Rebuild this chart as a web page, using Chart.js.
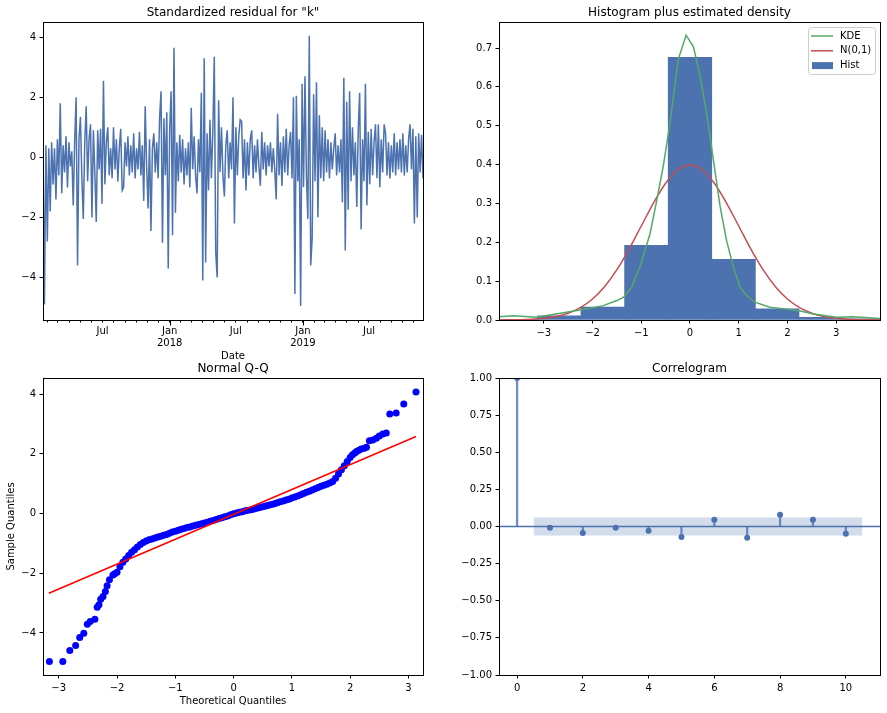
<!DOCTYPE html>
<html>
<head>
<meta charset="utf-8">
<script src="https://cdn.jsdelivr.net/npm/chart.js@4.4.1/dist/chart.umd.min.js"></script>
<style>
html, body { margin: 0; padding: 0; background: #fff; }
#wrap { position: relative; width: 887px; height: 713px; }
#wrap canvas { position: absolute; left: 0; top: 0; }
</style>
</head>
<body>
<div id="wrap">
  <canvas id="c1" width="887" height="713"></canvas>
  <canvas id="c2" width="887" height="713"></canvas>
  <canvas id="c3" width="887" height="713"></canvas>
  <canvas id="c4" width="887" height="713"></canvas>
</div>
<script>
// standardized residuals, roughly every 4 days from mid Jan 2017 to late Nov 2019
const resid = [
  0.4, -4.9, 0.4, -2.8, 0.3, -1.8, 0.5, -0.9, 0.3, -1.4,
  0.6, -0.6, 1.8, -1.2, 0.4, -0.5, 0.7, -1.0, 0.5, -0.3,
  0.2, -1.6, 0.5, 2.0, -3.6, 0.6, 1.35, -0.7, -2.05, 0.5,
  1.7, -0.8, 0.6, 1.1, -2.0, 0.9, -0.5, -2.15, 0.9, -0.4,
  0.95, -1.55, 2.55, -0.9, 0.5, 1.0, -0.6, 0.3, -0.7, 1.0,
  -0.4, 0.6, -0.8, 0.3, 0.95, -1.1, -1.0, 0.5, -0.3, 0.7,
  -0.6, 0.4, -0.5, 0.8, -0.7, 0.3, -0.4, 0.85, -0.6, 0.4,
  -1.45, 1.7, -0.3, -1.7, 0.6, -2.45, 0.3, 0.8, -0.5, 0.5,
  -0.7, 1.3, 2.2, -2.85, 1.3, -0.6, 1.5, -3.7, 0.9, 2.2,
  -2.6, 3.65, -1.85, 0.5, -0.8, 0.75, -0.5, 0.6, -0.9, 0.3,
  -0.6, 0.5, -1.0, 1.65, -0.4, 0.7, -0.6, -1.2, 0.6, -0.5,
  2.15, -4.1, 3.3, -3.5, 0.8, -1.1, 1.25, -0.7, 0.9, 3.35,
  -3.15, -4.0, 1.9, -0.5, 1.0, -0.6, -1.3, 0.4, 0.9, -0.7,
  0.5, -0.4, 2.0, -2.2, 1.0, -0.6, 0.7, 1.25, 1.2, -0.7,
  0.6, -1.1, 0.5, -0.6, 0.6, 0.9, -0.7, 0.4, -0.5, 0.6,
  -0.3, -0.95, 0.85, -0.4, 0.5, -0.6, 0.4, -0.3, 0.5, -0.5,
  0.3, -0.4, -1.4, 1.45, -0.6, 0.5, -0.95, 0.7, -0.5, 0.95,
  -0.6, 0.4, 0.85, -0.7, 2.0, -4.55, 2.05, -0.8, 0.6, -4.95,
  2.45, -1.0, 2.7, -0.6, -2.05, 4.05, -3.6, -2.7, 2.1, -0.8,
  2.5, -2.0, 1.4, -0.7, 1.0, -0.8, 0.9, -0.5, 0.6, -0.7,
  0.5, -0.4, 0.3, 0.8, -0.6, 0.4, -0.5, 0.6, -1.5, 2.65,
  -3.1, 1.85, -1.75, 2.2, -0.8, 1.0, -0.6, 0.5, -1.65, 0.9,
  2.15, -2.4, 0.6, -0.8, 2.45, -1.6, 0.85, -0.9, 0.95, -0.6,
  0.5, 1.1, -0.7, 1.1, -1.0, 0.6, -0.5, 1.1, 0.8, -0.6,
  0.5, -0.7, 0.4, -0.5, 0.8, -0.6, 0.5, -0.4, 0.6, -0.5,
  0.8, -0.6, 0.4, -0.5, 0.6, 1.1, -0.4, 0.95, -2.2, 0.7,
  -2.0, 0.8, -0.5, 0.75, -0.7
];
const residTicks = [-4, -2, 0, 2, 4];

// histogram (bin centres, density) and the two curves
const histCenters = [-4.475, -3.58, -2.685, -1.79, -0.895, 0, 0.895, 1.79, 2.685, 3.58];
const histDensity = [0.002, 0.002, 0.011, 0.033, 0.192, 0.676, 0.156, 0.0285, 0.007, 0.003];
const kdeX = [-3.92, -3.63, -3.15, -2.26, -1.78, -1.5, -1.36, -1.2, -1.03, -0.82, -0.68, -0.55, -0.41, -0.24, -0.08,
  0.07, 0.21, 0.34, 0.48, 0.62, 0.75, 0.89, 1.03, 1.16, 1.33, 1.64, 1.98, 2.24, 2.53, 3.01, 3.35, 3.9];
const kdeY = [0.0086, 0.011, 0.007, 0.026, 0.037, 0.05, 0.059, 0.084, 0.136, 0.222, 0.309, 0.395, 0.507, 0.671, 0.733,
  0.703, 0.628, 0.533, 0.412, 0.291, 0.205, 0.136, 0.084, 0.063, 0.046, 0.033, 0.028, 0.024, 0.0155, 0.007, 0.0086, 0.004];
const normX = [-3.9, -3.5, -3.25, -3.0, -2.75, -2.5, -2.25, -2.0, -1.75, -1.5, -1.25, -1.0, -0.75, -0.5, -0.25, 0,
  0.25, 0.5, 0.75, 1.0, 1.25, 1.5, 1.75, 2.0, 2.25, 2.5, 2.75, 3.0, 3.25, 3.5, 3.9];
const normY = [0.0002, 0.0009, 0.002, 0.0044, 0.009, 0.0175, 0.0317, 0.054, 0.0863, 0.1295, 0.1826, 0.242, 0.3011, 0.3521, 0.3867, 0.3989,
  0.3867, 0.3521, 0.3011, 0.242, 0.1826, 0.1295, 0.0863, 0.054, 0.0317, 0.0175, 0.009, 0.0044, 0.002, 0.0009, 0.0002];
const histXTicks = [-3, -2, -1, 0, 1, 2, 3];
const histYTicks = [0, 0.1, 0.2, 0.3, 0.4, 0.5, 0.6, 0.7];

// normal Q-Q
const qqTheo = [-3.16, -2.93, -2.81, -2.71, -2.64, -2.57, -2.51, -2.46, -2.38, -2.34, -2.31, -2.28, -2.24, -2.2, -2.17, -2.13, -2.07, -2.04,
  -2.0, -1.95, -1.9, -1.85, -1.8, -1.75, -1.7, -1.65, -1.6, -1.55, -1.5, -1.45, -1.4, -1.35, -1.3, -1.25, -1.2, -1.15, -1.1, -1.05,
  -1.0, -0.95, -0.9, -0.85, -0.8, -0.75, -0.7, -0.65, -0.6, -0.55, -0.5, -0.45, -0.4, -0.35, -0.3, -0.25, -0.2, -0.15, -0.1, -0.05,
  0, 0.05, 0.1, 0.15, 0.2, 0.25, 0.3, 0.35, 0.4, 0.45, 0.5, 0.55, 0.6, 0.65, 0.7, 0.75, 0.8, 0.85, 0.9, 0.95,
  1.0, 1.05, 1.1, 1.15, 1.2, 1.25, 1.3, 1.35, 1.4, 1.45, 1.5, 1.55, 1.6, 1.65, 1.7, 1.75, 1.8, 1.85, 1.9, 1.95, 2.0,
  2.04, 2.08, 2.11, 2.15, 2.19, 2.24, 2.28, 2.33, 2.39, 2.45, 2.5, 2.56, 2.62, 2.68, 2.79, 2.92, 3.13];
const qqSample = [-4.96, -4.96, -4.59, -4.42, -4.15, -4.01, -3.71, -3.62, -3.54, -3.14, -3.06, -2.87, -2.78, -2.61, -2.42, -2.22, -2.06, -2.02,
  -1.97, -1.78, -1.63, -1.52, -1.41, -1.3, -1.21, -1.12, -1.04, -0.97, -0.92, -0.88, -0.85, -0.82, -0.79, -0.76, -0.73, -0.7, -0.66, -0.62,
  -0.59, -0.56, -0.53, -0.5, -0.47, -0.45, -0.42, -0.39, -0.37, -0.34, -0.32, -0.29, -0.26, -0.23, -0.2, -0.17, -0.14, -0.11, -0.08, -0.04,
  -0.01, 0.02, 0.04, 0.06, 0.09, 0.11, 0.13, 0.15, 0.18, 0.2, 0.23, 0.25, 0.28, 0.3, 0.33, 0.36, 0.39, 0.42, 0.45, 0.48,
  0.52, 0.55, 0.59, 0.63, 0.67, 0.71, 0.75, 0.79, 0.83, 0.87, 0.91, 0.95, 0.98, 1.02, 1.07, 1.18, 1.32, 1.47, 1.6, 1.74, 1.88,
  1.97, 2.03, 2.08, 2.12, 2.16, 2.19, 2.22, 2.44, 2.46, 2.52, 2.6, 2.66, 2.7, 3.33, 3.37, 3.67, 4.07];
const qqLineX = [-3.17, 3.13];
const qqLineY = [-2.67, 2.58];
const qqXTicks = [-3, -2, -1, 0, 1, 2, 3];
const qqYTicks = [-4, -2, 0, 2, 4];

// correlogram
const acfLags = [0, 1, 2, 3, 4, 5, 6, 7, 8, 9, 10];
const acfVals = [1.0, -0.009, -0.043, -0.009, -0.029, -0.07, 0.045, -0.076, 0.079, 0.045, -0.049];
const confBand = 0.06;
const acfXTicks = [0, 2, 4, 6, 8, 10];
const acfYTicks = [-1, -0.75, -0.5, -0.25, 0, 0.25, 0.5, 0.75, 1];

const BLUE = '#4c72b0';
Chart.defaults.font.family = '"DejaVu Sans", sans-serif';
Chart.defaults.font.size = 10;
Chart.defaults.color = '#000';

const minus = s => String(s).replace('-', '\u2212');

// date axis of the first panel, in days from the first observation
const DAY = 864e5;
const T0 = Date.UTC(2017, 0, 19);
const T1 = Date.UTC(2019, 10, 26);
const spanDays = (T1 - T0) / DAY;
const monthTicks = [];
for (let y = 2017; y <= 2019; y++) {
  for (let m = 0; m < 12; m++) {
    const t = Date.UTC(y, m, 1);
    if (t < T0 || t > T1) continue;
    monthTicks.push({ value: (t - T0) / DAY, label: m === 0 ? ['Jan', String(y)] : (m === 6 ? 'Jul' : '') });
  }
}
const janTicks = monthTicks.filter(t => Array.isArray(t.label)).map(t => t.value);

// box, title, long ticks and legend drawn on top of each panel
const framePlugin = {
  id: 'frame',
  afterDraw(chart, args, opts) {
    const ctx = chart.ctx, a = chart.chartArea;
    const l = Math.round(a.left) + 0.5, t = Math.round(a.top) + 0.5;
    const r = Math.round(a.right) + 0.5, b = Math.round(a.bottom) + 0.5;
    ctx.save();
    ctx.strokeStyle = '#000';
    ctx.lineWidth = 1;
    ctx.strokeRect(l, t, r - l, b - t);
    if (opts.majorTicks) {
      const xs = chart.scales.x;
      ctx.beginPath();
      opts.majorTicks.forEach(v => {
        const x = Math.round(xs.getPixelForValue(v)) + 0.5;
        ctx.moveTo(x, b);
        ctx.lineTo(x, b + 5);
      });
      ctx.stroke();
    }
    if (opts.title) {
      ctx.fillStyle = '#000';
      ctx.font = '12px "DejaVu Sans", sans-serif';
      ctx.textAlign = 'center';
      ctx.textBaseline = 'middle';
      ctx.fillText(opts.title, (a.left + a.right) / 2, a.top - 9.5);
    }
    if (opts.legend) {
      const bx = a.right - 72, by = a.top + 5.5, bw = 67, bh = 47;
      ctx.fillStyle = 'rgba(255,255,255,0.8)';
      ctx.strokeStyle = '#cccccc';
      ctx.beginPath();
      ctx.roundRect(bx + 0.5, by, bw, bh, 3);
      ctx.fill();
      ctx.stroke();
      ctx.font = '10px "DejaVu Sans", sans-serif';
      ctx.textAlign = 'left';
      ctx.textBaseline = 'middle';
      opts.legend.forEach((item, i) => {
        const y = by + 8.5 + i * 14.8;
        if (item.kind === 'line') {
          ctx.strokeStyle = item.color;
          ctx.lineWidth = 1.5;
          ctx.beginPath();
          ctx.moveTo(bx + 3, y);
          ctx.lineTo(bx + 25, y);
          ctx.stroke();
        } else {
          ctx.fillStyle = item.color;
          ctx.fillRect(bx + 4, y - 3.5, 21, 7);
        }
        ctx.fillStyle = '#000';
        ctx.fillText(item.label, bx + 32, y);
      });
    }
    ctx.restore();
  }
};

function axis(min, max, ticks, fmt, size, extra) {
  return Object.assign({
    type: 'linear',
    min: min,
    max: max,
    offset: false,
    afterBuildTicks: s => { s.ticks = ticks.map(v => ({ value: v })); },
    ticks: { autoSkip: false, maxRotation: 0, padding: 3.5, callback: fmt },
    grid: { drawOnChartArea: false, offset: false, tickLength: 3.5, color: '#000' },
    border: { display: false }
  }, size, extra || {});
}
const fitW = w => ({ afterFit: s => { s.width = w; } });
const fitH = h => ({ afterFit: s => { s.height = h; } });
const base = {
  responsive: false,
  animation: false,
  events: []
};

// panel 1: residual series
new Chart(document.getElementById('c1'), {
  type: 'line',
  data: {
    datasets: [{
      data: resid.map((v, i) => ({ x: i * spanDays / (resid.length - 1), y: v })),
      borderColor: BLUE,
      borderWidth: 1.5,
      pointRadius: 0,
      tension: 0
    }]
  },
  options: Object.assign({}, base, {
    layout: { padding: { left: 3, top: 22, right: 464, bottom: 347 } },
    plugins: {
      legend: { display: false },
      tooltip: { enabled: false },
      frame: { title: 'Standardized residual for "k"', majorTicks: janTicks }
    },
    scales: {
      x: {
        type: 'linear', min: 0, max: spanDays, offset: false,
        afterFit: s => { s.height = 46; },
        afterBuildTicks: s => { s.ticks = monthTicks.map(t => ({ value: t.value })); },
        ticks: { autoSkip: false, maxRotation: 0, padding: 2.5, callback: (v, i) => monthTicks[i].label },
        grid: { drawOnChartArea: false, tickLength: 2.5, color: '#000' },
        border: { display: false },
        title: { display: true, text: 'Date', padding: { top: 4, bottom: 4 } }
      },
      y: axis(-5.42, 4.51, residTicks, v => minus(v), fitW(40))
    }
  }),
  plugins: [framePlugin]
});

// panel 2: histogram plus densities
new Chart(document.getElementById('c2'), {
  type: 'bar',
  data: {
    datasets: [
      {
        type: 'line', label: 'KDE',
        data: kdeX.map((x, i) => ({ x: x, y: kdeY[i] })),
        borderColor: '#55a868', borderWidth: 1.5, pointRadius: 0, tension: 0
      },
      {
        type: 'line', label: 'N(0,1)',
        data: normX.map((x, i) => ({ x: x, y: normY[i] })),
        borderColor: '#c44e52', borderWidth: 1.5, pointRadius: 0, cubicInterpolationMode: 'monotone'
      },
      {
        type: 'bar', label: 'Hist',
        data: histCenters.map((x, i) => ({ x: x, y: histDensity[i] })),
        backgroundColor: BLUE, borderWidth: 0, barPercentage: 1, categoryPercentage: 1
      }
    ]
  },
  options: Object.assign({}, base, {
    layout: { padding: { left: 459, top: 22, right: 7, bottom: 353 } },
    plugins: {
      legend: { display: false },
      tooltip: { enabled: false },
      frame: {
        title: 'Histogram plus estimated density',
        legend: [
          { label: 'KDE', kind: 'line', color: '#55a868' },
          { label: 'N(0,1)', kind: 'line', color: '#c44e52' },
          { label: 'Hist', kind: 'box', color: BLUE }
        ]
      }
    },
    scales: {
      x: axis(-3.92, 3.9, histXTicks, v => minus(v), fitH(40)),
      y: axis(0, 0.767, histYTicks, v => v.toFixed(1), fitW(40))
    }
  }),
  plugins: [framePlugin]
});

// panel 3: normal Q-Q
new Chart(document.getElementById('c3'), {
  type: 'scatter',
  data: {
    datasets: [
      {
        type: 'line',
        data: qqLineX.map((x, i) => ({ x: x, y: qqLineY[i] })),
        borderColor: '#ff0000', borderWidth: 1.5, pointRadius: 0
      },
      {
        data: qqTheo.map((x, i) => ({ x: x, y: qqSample[i] })),
        pointRadius: 3.5, backgroundColor: '#0000ff', borderWidth: 0
      }
    ]
  },
  options: Object.assign({}, base, {
    layout: { padding: { left: 3, top: 378, right: 464, bottom: 2 } },
    plugins: {
      legend: { display: false },
      tooltip: { enabled: false },
      frame: { title: 'Normal Q-Q' }
    },
    scales: {
      x: axis(-3.27, 3.25, qqXTicks, v => minus(v), fitH(36),
        { title: { display: true, text: 'Theoretical Quantiles', padding: { top: 4, bottom: 4 } } }),
      y: axis(-5.41, 4.54, qqYTicks, v => minus(v), fitW(40),
        { title: { display: true, text: 'Sample Quantiles', padding: { top: 2, bottom: 2 } } })
    }
  }),
  plugins: [framePlugin]
});

// panel 4: correlogram
const acfXMin = -0.55, acfXMax = 11.04;
new Chart(document.getElementById('c4'), {
  type: 'bar',
  data: {
    datasets: [
      {
        type: 'line', showLine: false,
        data: acfLags.map((x, i) => ({ x: x, y: acfVals[i] })),
        pointRadius: 3, pointBackgroundColor: BLUE, pointBorderWidth: 0
      },
      {
        type: 'bar',
        data: acfLags.map((x, i) => ({ x: x, y: acfVals[i] })),
        backgroundColor: 'rgba(76,114,176,0.8)', borderWidth: 0, barThickness: 1.6
      },
      {
        type: 'line',
        data: [{ x: acfXMin, y: 0 }, { x: acfXMax, y: 0 }],
        borderColor: BLUE, borderWidth: 1.6, pointRadius: 0
      },
      {
        type: 'line',
        data: [{ x: acfLags[0] + 0.5, y: confBand }, { x: acfLags[acfLags.length - 1] + 0.5, y: confBand }],
        borderWidth: 0, pointRadius: 0,
        fill: { value: -confBand }, backgroundColor: 'rgba(76,114,176,0.25)'
      }
    ]
  },
  options: Object.assign({}, base, {
    layout: { padding: { left: 459, top: 378, right: 7, bottom: 2 } },
    plugins: {
      legend: { display: false },
      tooltip: { enabled: false },
      frame: { title: 'Correlogram' }
    },
    scales: {
      x: axis(acfXMin, acfXMax, acfXTicks, v => minus(v), fitH(36)),
      y: axis(-1, 1, acfYTicks, v => minus(v.toFixed(2)), fitW(40))
    }
  }),
  plugins: [framePlugin]
});
</script>
</body>
</html>
